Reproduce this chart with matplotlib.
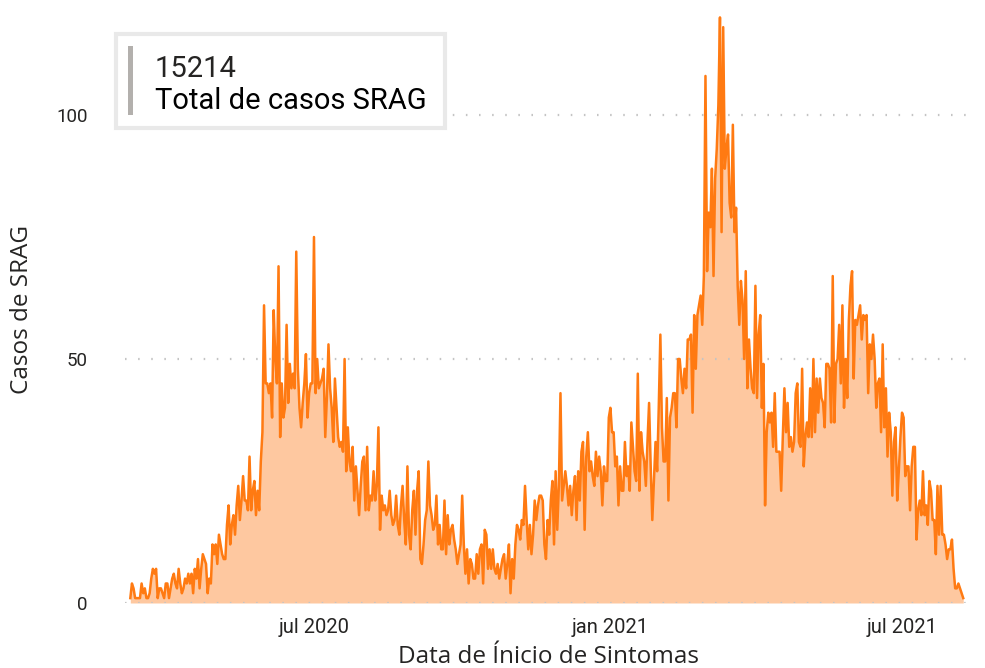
import matplotlib
matplotlib.use("Agg")
import matplotlib.pyplot as plt
import matplotlib.patches as mpatches
import numpy as np
import pandas as pd

# ---------------- data ----------------
start_date = "2020-03-09"
cases_mar_may_2020 = [1, 4, 3, 1, 1, 1, 1, 4, 2, 3, 1, 1, 2, 5, 7, 6, 7, 1, 3, 3,
                      2, 1, 4, 4, 1, 3, 5, 6, 4, 3, 7, 4, 2, 3, 5, 4, 6, 4, 6, 2,
                      7, 5, 9, 3, 7, 10, 9, 8, 2, 5, 4, 12, 10, 12, 8, 14, 12, 10, 9, 9,
                      16, 20]
cases_may_jul_2020 = [12, 16, 18, 14, 20, 24, 17, 21, 26, 21, 21, 19, 30, 19, 23, 25, 18, 23, 19, 29,
                      35, 61, 45, 45, 43, 45, 38, 60, 50, 45, 69, 34, 45, 38, 40, 57, 41, 49, 44, 47,
                      44, 72, 48, 40, 36, 41, 45, 51, 38, 43, 45, 45, 75, 43, 50, 44, 45, 46, 48, 34,
                      42, 53]
cases_jul_sep_2020 = [44, 40, 33, 46, 40, 34, 32, 33, 31, 50, 27, 36, 29, 27, 32, 21, 28, 23, 18, 24,
                      29, 30, 19, 32, 19, 22, 21, 27, 21, 24, 36, 15, 22, 19, 20, 18, 19, 23, 18, 16,
                      17, 22, 16, 14, 20, 24, 17, 12, 28, 14, 11, 19, 23, 14, 23, 27, 9, 8, 12, 17,
                      19, 29]
cases_sep_nov_2020 = [20, 18, 15, 16, 22, 12, 16, 11, 11, 21, 10, 18, 12, 15, 16, 13, 11, 8, 10, 12,
                      22, 12, 6, 11, 4, 9, 8, 5, 5, 10, 6, 11, 12, 4, 15, 14, 7, 11, 7, 11,
                      7, 6, 8, 5, 7, 9, 10, 5, 8, 12, 2, 9, 5, 12, 16, 15, 13, 17, 16, 24,
                      17, 11]
cases_nov_jan_2021 = [16, 10, 14, 21, 17, 20, 22, 22, 21, 12, 9, 17, 14, 21, 25, 12, 27, 15, 24, 43,
                      21, 24, 27, 24, 20, 24, 18, 23, 26, 17, 27, 21, 31, 33, 15, 30, 35, 27, 29, 26,
                      24, 31, 26, 30, 27, 20, 28, 25, 25, 38, 40, 35, 35, 28, 30]
cases_jan_feb_2021 = [20, 28, 23, 23, 33, 26, 28, 23, 37, 32, 27, 25, 47, 23, 35, 31, 29, 24, 33, 41,
                      28, 17, 25, 33, 27, 40, 55, 36, 29, 29, 42, 21, 38, 40, 43, 43, 36, 50, 50, 46,
                      43, 48, 44, 54, 54, 55, 39, 59, 48, 59]
cases_feb_apr_2021 = [61, 63, 57, 67, 108, 68, 80, 77, 89, 67, 87, 93, 102, 120, 76, 118, 89, 93, 96, 82,
                      79, 98, 76, 81, 65, 57, 66, 62, 50, 68, 44, 54, 48, 44, 43, 65, 42, 55, 59, 40,
                      49, 20, 35, 39]
cases_apr_may_2021 = [37, 39, 32, 43, 31, 31, 31, 23, 34, 44, 35, 41, 32, 34, 31, 33, 43, 45, 33, 32,
                      48, 28, 34, 37, 34, 44, 34, 50, 35, 46, 39, 46, 42, 41, 36, 49, 49, 48, 37, 67,
                      37, 49]
cases_may_jul_2021 = [50, 57, 45, 61, 40, 50, 42, 58, 65, 68, 46, 58, 57, 59, 61, 54, 59, 58, 59, 43,
                      53, 50, 55, 50, 40, 45, 46, 35, 53, 36, 44, 30, 39, 35, 22, 33, 36, 21, 27, 34,
                      39, 38, 26]
cases_jul_aug_2021 = [28, 28, 19, 28, 32, 32, 13, 19, 21, 18, 27, 18, 20, 16, 25, 23, 17, 17, 10, 24,
                      14, 24, 14, 14, 12, 9, 11, 11, 13, 7, 3, 3, 4, 3, 2, 1]

y_ticks = [0, 50, 100]
x_tick_dates = ["2020-07-01", "2021-01-01", "2021-07-01"]
x_tick_labels = ["jul 2020", "jan 2021", "jul 2021"]
card_value = "15214"
card_label = "Total de casos SRAG"
x_title = "Data de Ínicio de Sintomas"
y_title = "Casos de SRAG"

values = np.concatenate([cases_mar_may_2020, cases_may_jul_2020, cases_jul_sep_2020,
                         cases_sep_nov_2020, cases_nov_jan_2021, cases_jan_feb_2021,
                         cases_feb_apr_2021, cases_apr_may_2021, cases_may_jul_2021,
                         cases_jul_aug_2021]).astype(float)
dates = pd.date_range(start_date, periods=len(values), freq="D")

# ---------------- figure ----------------
W, H = 985, 668
fig = plt.figure(figsize=(W / 100, H / 100), dpi=100)
fig.patch.set_facecolor("white")

ax_l, ax_r, ax_b, ax_t = 125, 975, 603, 12
ax = fig.add_axes([ax_l / W, 1 - ax_b / H, (ax_r - ax_l) / W, (ax_b - ax_t) / H])

line_col = "#FF7A12"
fill_col = "#FEC8A0"
ax.fill_between(dates, values, 0, color=fill_col, lw=0, zorder=1)
ax.plot(dates, values, color=line_col, lw=1.8, zorder=3, solid_joinstyle="round")

for yv in y_ticks:
    ax.axhline(yv, color="#c4c4c4", lw=1.6, linestyle=(0, (0.7, 5.2)), zorder=2)

ax.set_ylim(0, (ax_b - ax_t) / 4.88)
ref = pd.Timestamp("2020-07-01")
ax.set_xlim(ref - pd.Timedelta(days=117.3), ref + pd.Timedelta(days=410.3))

for s in ax.spines.values():
    s.set_visible(False)

tick_font = "Roboto"
ax.set_yticks(y_ticks)
ax.set_yticklabels([str(v) for v in y_ticks], fontsize=13.5, family=tick_font, color="#252423")
ax.set_xticks(pd.to_datetime(x_tick_dates))
ax.set_xticklabels(x_tick_labels, fontsize=14.5, family=tick_font, color="#252423")
ax.tick_params(axis="y", length=0, pad=27)
ax.tick_params(axis="x", length=0, pad=11)

fig.text(22 / W, 1 - 310 / H, y_title, rotation=90, ha="center", va="center",
         fontsize=17.5, family="Open Sans", color="#252423")
fig.text(548 / W, 1 - 657 / H, x_title, ha="center", va="center",
         fontsize=17.5, family="Open Sans", color="#252423")

# ---------------- card ----------------
card = mpatches.Rectangle((116 / W, 1 - 128 / H), (445 - 116) / W, (128 - 34) / H,
                          transform=fig.transFigure, facecolor="white",
                          edgecolor="#e9e9e9", lw=3, zorder=5)
fig.patches.append(card)
bar = mpatches.Rectangle((128 / W, 1 - 115 / H), 5 / W, (115 - 46) / H,
                         transform=fig.transFigure, facecolor="#b3b0ad",
                         edgecolor="none", zorder=6)
fig.patches.append(bar)
fig.text(155 / W, 1 - 69 / H, card_value, ha="left", va="center", fontsize=21,
         family=tick_font, color="#252423", zorder=7)
fig.text(155 / W, 1 - 101 / H, card_label, ha="left", va="center", fontsize=21,
         family=tick_font, color="#000000", zorder=7)

fig.savefig("out.png", dpi=100, facecolor="white")
